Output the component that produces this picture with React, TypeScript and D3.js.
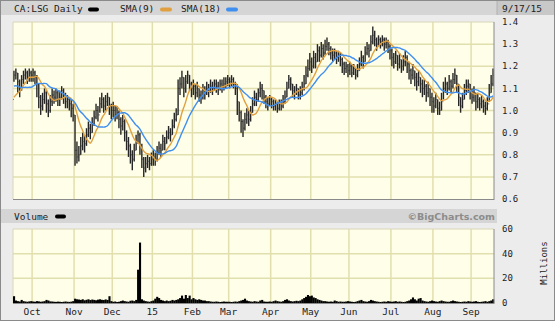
import React from 'react';
import * as d3 from 'd3';

const monthLabels = ["Oct", "Nov", "Dec", "15", "Feb", "Mar", "Apr", "May", "Jun", "Jul", "Aug", "Sep"];
const priceTicks = [1.4, 1.3, 1.2, 1.1, 1.0, 0.9, 0.8, 0.7, 0.6];
const volumeTicks = [60, 40, 20, 0];
const holidays = ["2014-10-13", "2014-12-25", "2014-12-26", "2015-01-01", "2015-02-16", "2015-04-03", "2015-05-18", "2015-07-01", "2015-08-03", "2015-09-07"];

// closes before the visible window (needed to start the moving averages)
const preCloses = [1.14, 1.16, 1.18, 1.17, 1.15, 1.16, 1.17, 1.15, 1.16, 1.08, 1.05, 1.03, 1.02, 1.04, 1.05, 1.06, 1.05];

const closes = [
  // Sep 14
  1.16, 1.17, 1.13, 1.10, 1.14, 1.16, 1.17, 1.15, 1.17, 1.16,
  // Oct
  1.17, 1.15, 1.12, 1.06, 1.02, 1.05, 1.08, 1.03, 1.00, 1.04, 1.07, 1.06, 1.08, 1.05, 1.06, 1.09, 1.07, 1.04, 1.05, 1.03, 1.01, 0.98,
  // Nov
  0.82, 0.79, 0.80, 0.84, 0.86, 0.85, 0.89, 0.92, 0.90, 0.94, 0.97, 1.00, 0.98, 1.03, 1.05, 1.02, 1.04, 1.06, 1.02, 1.00,
  // Dec
  1.00, 0.98, 0.99, 0.96, 0.93, 0.95, 0.90, 0.86, 0.84, 0.80, 0.78, 0.82, 0.86, 0.89, 0.84, 0.78, 0.74, 0.76, 0.77, 0.76, 0.78,
  // Jan 15
  0.79, 0.78, 0.81, 0.83, 0.82, 0.86, 0.85, 0.88, 0.90, 0.89, 0.93, 0.96, 0.98, 1.10, 1.12, 1.15, 1.10, 1.13, 1.16, 1.12, 1.10,
  // Feb
  1.11, 1.08, 1.10, 1.07, 1.06, 1.09, 1.08, 1.10, 1.09, 1.11, 1.10, 1.12, 1.11, 1.10, 1.12, 1.11, 1.12, 1.13, 1.14,
  // Mar
  1.13, 1.14, 1.12, 1.10, 1.04, 0.99, 0.95, 0.92, 0.96, 0.98, 0.96, 0.99, 1.03, 1.06, 1.05, 1.08, 1.10, 1.09, 1.06, 1.04, 1.03, 1.05,
  // Apr
  1.04, 1.02, 1.03, 1.01, 1.03, 1.02, 1.04, 1.06, 1.10, 1.14, 1.12, 1.09, 1.08, 1.10, 1.07, 1.08, 1.10, 1.12, 1.16, 1.19, 1.22,
  // May
  1.20, 1.24, 1.22, 1.27, 1.25, 1.28, 1.26, 1.29, 1.30, 1.28, 1.26, 1.25, 1.26, 1.24, 1.25, 1.23, 1.21, 1.19, 1.20, 1.18,
  // Jun
  1.20, 1.17, 1.19, 1.16, 1.18, 1.21, 1.24, 1.22, 1.26, 1.28, 1.27, 1.31, 1.34, 1.32, 1.30, 1.32, 1.31, 1.32, 1.30, 1.31, 1.29, 1.27,
  // Jul
  1.24, 1.22, 1.25, 1.21, 1.23, 1.20, 1.22, 1.24, 1.21, 1.18, 1.16, 1.18, 1.15, 1.13, 1.15, 1.12, 1.10, 1.11, 1.08, 1.10, 1.06, 1.04,
  // Aug
  1.02, 1.05, 1.01, 1.00, 1.04, 1.10, 1.12, 1.10, 1.13, 1.11, 1.14, 1.16, 1.12, 1.06, 1.02, 1.05, 1.09, 1.11, 1.12, 1.09,
  // Sep 15
  1.06, 1.08, 1.04, 1.05, 1.03, 1.04, 1.02, 1.01, 1.03, 1.08, 1.12, 1.16,
];

const highs = [
  1.18, 1.19, 1.17, 1.14, 1.16, 1.18, 1.19, 1.18, 1.19, 1.18,
  1.19, 1.18, 1.16, 1.12, 1.07, 1.08, 1.10, 1.09, 1.05, 1.07, 1.10, 1.09, 1.10, 1.09, 1.09, 1.11, 1.10, 1.08, 1.07, 1.06, 1.05, 1.03,
  0.98, 0.86, 0.84, 0.88, 0.90, 0.89, 0.92, 0.95, 0.94, 0.97, 1.00, 1.03, 1.02, 1.06, 1.08, 1.06, 1.07, 1.08, 1.06, 1.03,
  1.04, 1.02, 1.02, 1.00, 0.97, 0.98, 0.96, 0.91, 0.88, 0.85, 0.82, 0.85, 0.89, 0.91, 0.90, 0.85, 0.79, 0.79, 0.80, 0.79, 0.81,
  0.82, 0.81, 0.84, 0.86, 0.85, 0.89, 0.88, 0.91, 0.93, 0.92, 0.96, 0.99, 1.01, 1.14, 1.15, 1.18, 1.15, 1.16, 1.18, 1.16, 1.13,
  1.14, 1.12, 1.13, 1.10, 1.09, 1.12, 1.11, 1.13, 1.12, 1.14, 1.13, 1.14, 1.14, 1.13, 1.14, 1.14, 1.15, 1.15, 1.16,
  1.15, 1.16, 1.15, 1.13, 1.12, 1.04, 1.00, 0.96, 0.99, 1.01, 1.00, 1.02, 1.06, 1.09, 1.08, 1.10, 1.13, 1.12, 1.09, 1.07, 1.06, 1.07,
  1.06, 1.05, 1.05, 1.04, 1.05, 1.05, 1.07, 1.09, 1.13, 1.16, 1.15, 1.12, 1.11, 1.12, 1.10, 1.11, 1.13, 1.16, 1.20, 1.23, 1.26,
  1.24, 1.27, 1.26, 1.30, 1.29, 1.31, 1.30, 1.32, 1.33, 1.31, 1.29, 1.28, 1.28, 1.27, 1.27, 1.26, 1.24, 1.22, 1.22, 1.21,
  1.22, 1.21, 1.21, 1.19, 1.21, 1.24, 1.27, 1.25, 1.29, 1.31, 1.30, 1.34, 1.38, 1.36, 1.33, 1.34, 1.33, 1.34, 1.33, 1.33, 1.32, 1.30,
  1.28, 1.26, 1.27, 1.25, 1.26, 1.23, 1.25, 1.27, 1.25, 1.22, 1.19, 1.21, 1.18, 1.17, 1.18, 1.15, 1.14, 1.14, 1.12, 1.13, 1.10, 1.08,
  1.06, 1.08, 1.05, 1.04, 1.08, 1.13, 1.15, 1.13, 1.16, 1.14, 1.17, 1.19, 1.16, 1.12, 1.06, 1.08, 1.12, 1.14, 1.14, 1.12,
  1.10, 1.11, 1.08, 1.08, 1.06, 1.07, 1.05, 1.04, 1.06, 1.12, 1.16, 1.19,
];

const lows = [
  1.13, 1.14, 1.08, 1.06, 1.09, 1.12, 1.14, 1.12, 1.13, 1.13,
  1.13, 1.12, 1.06, 1.01, 0.98, 1.00, 1.03, 0.99, 0.97, 0.99, 1.02, 1.03, 1.04, 1.02, 1.02, 1.05, 1.03, 1.01, 1.01, 1.00, 0.97, 0.95,
  0.75, 0.76, 0.77, 0.80, 0.82, 0.81, 0.84, 0.88, 0.87, 0.90, 0.93, 0.96, 0.95, 0.99, 1.01, 0.99, 1.00, 1.02, 0.98, 0.96,
  0.97, 0.95, 0.96, 0.92, 0.89, 0.91, 0.86, 0.82, 0.79, 0.76, 0.73, 0.77, 0.82, 0.85, 0.80, 0.74, 0.70, 0.72, 0.74, 0.73, 0.75,
  0.75, 0.75, 0.77, 0.80, 0.79, 0.82, 0.82, 0.85, 0.87, 0.86, 0.89, 0.92, 0.95, 0.98, 1.07, 1.10, 1.06, 1.08, 1.12, 1.09, 1.06,
  1.07, 1.05, 1.06, 1.04, 1.03, 1.05, 1.05, 1.07, 1.06, 1.08, 1.07, 1.09, 1.08, 1.07, 1.09, 1.08, 1.09, 1.10, 1.11,
  1.10, 1.11, 1.10, 1.07, 0.98, 0.95, 0.90, 0.88, 0.91, 0.94, 0.93, 0.95, 0.99, 1.02, 1.02, 1.04, 1.06, 1.05, 1.03, 1.01, 1.00, 1.02,
  1.01, 1.00, 1.00, 0.99, 1.00, 1.00, 1.01, 1.03, 1.06, 1.10, 1.09, 1.06, 1.05, 1.07, 1.05, 1.05, 1.07, 1.09, 1.12, 1.15, 1.18,
  1.17, 1.19, 1.19, 1.22, 1.22, 1.24, 1.23, 1.25, 1.27, 1.25, 1.23, 1.22, 1.23, 1.21, 1.22, 1.20, 1.17, 1.16, 1.17, 1.15,
  1.16, 1.15, 1.16, 1.14, 1.15, 1.18, 1.20, 1.19, 1.22, 1.25, 1.24, 1.27, 1.30, 1.29, 1.27, 1.29, 1.28, 1.29, 1.27, 1.28, 1.26, 1.23,
  1.20, 1.19, 1.21, 1.18, 1.19, 1.17, 1.18, 1.20, 1.17, 1.14, 1.12, 1.14, 1.11, 1.09, 1.11, 1.08, 1.06, 1.07, 1.04, 1.06, 1.02, 0.99,
  0.99, 1.01, 0.98, 0.98, 1.00, 1.05, 1.08, 1.07, 1.09, 1.08, 1.10, 1.12, 1.08, 1.02, 0.99, 1.01, 1.05, 1.07, 1.08, 1.05,
  1.03, 1.04, 1.00, 1.01, 1.00, 1.01, 0.99, 0.98, 1.00, 1.04, 1.08, 1.11,
];

// volume, millions of shares
const volumes = [
  5.5, 2.0, 1.5, 1.2, 2.5, 1.5, 1.2, 1.0, 1.3, 1.5,
  1.2, 1.0, 1.5, 1.3, 1.0, 1.2, 1.5, 2.5, 2.0, 1.3, 1.2, 1.0, 0.9, 1.1, 1.0, 0.8, 1.0, 1.2, 1.0, 0.9, 1.1, 1.5,
  3.5, 3.0, 2.8, 2.5, 3.0, 2.2, 2.6, 3.0, 2.4, 2.8, 2.5, 2.2, 2.7, 3.0, 2.6, 2.4, 2.9, 2.5, 5.5, 1.5,
  1.0, 1.2, 0.8, 1.0, 1.5, 2.0, 1.5, 1.2, 1.0, 1.8, 2.0, 1.5, 2.5, 27, 49, 3.0, 2.0, 1.5, 1.2, 1.0, 1.5,
  2.0, 3.5, 5.0, 4.0, 2.5, 2.0, 1.5, 2.0, 1.5, 1.8, 2.5, 2.0, 2.5, 3.0, 4.0, 6.0, 3.5, 6.5, 4.0, 6.0, 3.0,
  4.0, 3.0, 2.5, 3.0, 2.5, 2.0, 2.0, 1.5, 1.5, 1.2, 1.0, 1.0, 1.2, 1.0, 0.8, 1.0, 1.2, 1.0, 1.0,
  1.0, 0.8, 1.0, 1.2, 1.0, 1.5, 2.0, 2.5, 3.5, 2.0, 1.5, 1.2, 1.0, 1.5, 1.2, 1.0, 2.0, 2.5, 1.2, 1.0, 1.0, 1.2,
  1.0, 1.5, 2.0, 1.5, 1.2, 1.0, 1.5, 2.5, 3.0, 2.0, 1.5, 1.2, 1.5, 1.8, 1.5, 2.0, 3.0, 4.0, 5.0, 6.5, 5.5,
  6.0, 4.5, 4.0, 3.0, 2.5, 2.0, 1.5, 1.5, 1.2, 1.0, 1.2, 1.0, 2.0, 1.5, 1.0, 1.2, 1.0, 1.0, 1.2, 1.5,
  1.2, 1.0, 0.8, 1.0, 1.5, 2.0, 2.5, 1.5, 1.2, 1.0, 1.5, 2.5, 2.0, 1.5, 1.2, 1.0, 0.8, 1.0, 1.2, 1.0, 1.5, 1.2,
  1.0, 1.2, 1.5, 1.0, 1.2, 1.0, 0.8, 1.0, 1.5, 2.0, 3.0, 4.5, 3.0, 2.0, 3.5, 4.0, 2.0, 1.5, 1.2, 1.0, 1.5, 2.0,
  1.5, 1.2, 1.0, 1.5, 2.0, 1.5, 1.2, 1.0, 1.0, 1.5, 2.0, 1.5, 1.2, 1.0, 0.8, 1.0, 1.2, 1.0, 1.5, 1.2,
  1.0, 1.2, 1.5, 1.0, 0.8, 1.0, 1.2, 1.5, 1.0, 1.5, 2.0, 3.0,
];

function tradingDays(): Date[] {
  const out: Date[] = [];
  const start = Date.UTC(2014, 8, 17);
  const end = Date.UTC(2015, 8, 17);
  for (let t = start; t <= end; t += 86400000) {
    const d = new Date(t);
    const wd = d.getUTCDay();
    if (wd === 0 || wd === 6) continue;
    if (holidays.includes(d.toISOString().slice(0, 10))) continue;
    out.push(d);
  }
  return out;
}

function sma(all: number[], n: number, offset: number, count: number): number[] {
  const res: number[] = [];
  for (let i = 0; i < count; i++) {
    const j = i + offset;
    res.push(d3.mean(all.slice(j - n + 1, j + 1)) as number);
  }
  return res;
}

const W = 555, H = 321;
const PL = 13, PR = 494;
const PT = 22, PB = 199;
const VT = 229, VB = 303;
const MONO = "'DejaVu Sans Mono', monospace";
const GRID = '#e2dfae';
const PLOTBG = '#fffee8';

export default function App() {
  const days = tradingDays();
  const N = closes.length;
  const monthStarts: number[] = [];
  for (let i = 1; i < days.length; i++) {
    if (days[i].getUTCMonth() !== days[i - 1].getUTCMonth()) monthStarts.push(i);
  }
  const x = d3.scaleLinear().domain([0, N]).range([PL, PR]);
  const y = d3.scaleLinear().domain([0.6, 1.4]).range([PB, PT]);
  const yv = d3.scaleLinear().domain([0, 60]).range([VB, VT]);
  const all = preCloses.concat(closes);
  const sma9 = sma(all, 9, preCloses.length, N);
  const sma18 = sma(all, 18, preCloses.length, N);
  const line = d3.line<number>().x((_, i) => x(i + 0.5)).y((v) => y(v)).curve(d3.curveMonotoneX);
  const step = x(1) - x(0);

  return (
    <svg width={W} height={H} style={{ position: 'fixed', left: 0, top: 0, display: 'block' }}
      fontFamily={MONO}>
      <rect x={0} y={0} width={W} height={H} fill="#ececec" />
      {/* header band */}
      <rect x={1} y={1} width={496} height={14} fill="#d5d5d5" />
      <rect x={497} y={1} width={57} height={14} fill="#c8c8c8" />
      <line x1={497} x2={497} y1={1} y2={15} stroke="#b0b0b0" />
      <text x={14} y={12} fontSize={9.5} fill="#222">CA:LSG Daily</text>
      <rect x={88} y={7.5} width={11} height={4} rx={2} fill="#000" />
      <text x={120} y={12} fontSize={9.5} fill="#222">SMA(9)</text>
      <rect x={160} y={7.5} width={12} height={4} rx={2} fill="#e0a040" />
      <text x={181} y={12} fontSize={9.5} fill="#222">SMA(18)</text>
      <rect x={226} y={7.5} width={12} height={4} rx={2} fill="#3f8ff0" />
      <text x={542} y={12} fontSize={9.5} fill="#222" textAnchor="end">9/17/15</text>

      {/* price plot */}
      <rect x={PL} y={PT} width={PR - PL} height={PB - PT} fill={PLOTBG} />
      {priceTicks.slice(1, -1).map((t) => (
        <line key={'hg' + t} x1={PL} x2={PR} y1={y(t)} y2={y(t)} stroke={GRID} strokeWidth={1.5} />
      ))}
      {monthStarts.map((m) => (
        <line key={'vg' + m} x1={x(m)} x2={x(m)} y1={PT} y2={PB} stroke={GRID} strokeWidth={1.5} />
      ))}
      <line x1={PL} x2={PR} y1={PT} y2={PT} stroke="#d8d6b8" />
      <line x1={PL} x2={PL} y1={PT} y2={PB} stroke="#d8d6b8" />
      {closes.map((c, i) => {
        const cx = x(i + 0.5);
        const o = i === 0 ? preCloses[preCloses.length - 1] : closes[i - 1];
        return (
          <g key={'b' + i}>
            <line x1={cx - 1} x2={cx} y1={y(o)} y2={y(o)} stroke="#777" strokeWidth={1} />
            <line x1={cx} x2={cx + 1} y1={y(c)} y2={y(c)} stroke="#777" strokeWidth={1} />
            <line x1={cx} x2={cx} y1={y(highs[i])} y2={y(lows[i])} stroke="#262626" strokeWidth={1.4} />
          </g>
        );
      })}
      <path d={line(sma9) || ''} fill="none" stroke="#e0a040" strokeWidth={1.4} />
      <path d={line(sma18) || ''} fill="none" stroke="#3f8ff0" strokeWidth={1.4} />
      <line x1={PR} x2={PR} y1={PT} y2={PB + 1} stroke="#8a8a8a" />
      <line x1={PL} x2={PR} y1={PB + 0.5} y2={PB + 0.5} stroke="#8a8a8a" />
      {priceTicks.map((t) => (
        <text key={'pt' + t} x={502} y={y(t)} dy="0.35em" fontSize={9} fill="#222">{t.toFixed(1)}</text>
      ))}

      {/* volume header */}
      <rect x={1} y={209} width={496} height={14} fill="#d5d5d5" />
      <text x={14} y={220} fontSize={9.5} fill="#222">Volume</text>
      <rect x={55} y={214.5} width={11} height={4} rx={2} fill="#000" />
      <text x={495} y={220} fontSize={9.5} fontWeight="bold" fontFamily="'DejaVu Sans', sans-serif"
        fill="#8c8c8c" textAnchor="end">©BigCharts.com</text>

      {/* volume plot */}
      <rect x={PL} y={VT} width={PR - PL} height={VB - VT} fill={PLOTBG} />
      {[20, 40].map((t) => (
        <line key={'vh' + t} x1={PL} x2={PR} y1={yv(t)} y2={yv(t)} stroke={GRID} strokeWidth={1.5} />
      ))}
      {monthStarts.map((m) => (
        <line key={'vv' + m} x1={x(m)} x2={x(m)} y1={VT} y2={VB} stroke={GRID} strokeWidth={1.5} />
      ))}
      <line x1={PL} x2={PR} y1={VT} y2={VT} stroke="#d8d6b8" />
      <line x1={PL} x2={PL} y1={VT} y2={VB} stroke="#d8d6b8" />
      {volumes.map((v, i) => (
        <rect key={'v' + i} x={x(i)} y={yv(v)} width={step + 0.2} height={VB - yv(v)} fill="#000" />
      ))}
      <line x1={PR} x2={PR} y1={VT} y2={VB + 1} stroke="#8a8a8a" />
      <line x1={PL} x2={PR} y1={VB + 0.5} y2={VB + 0.5} stroke="#8a8a8a" />
      {volumeTicks.map((t) => (
        <text key={'vt' + t} x={502} y={yv(t)} dy="0.35em" fontSize={9} fill="#222">{t}</text>
      ))}
      <text transform={`translate(547,263) rotate(-90)`} fontSize={9} fill="#222" textAnchor="middle">Millions</text>

      {/* month labels */}
      {monthStarts.map((m, k) => (
        <text key={'ml' + m} x={x(m)} y={315} fontSize={9.5} fill="#222" textAnchor="middle">{monthLabels[k]}</text>
      ))}

      <rect x={0.5} y={0.5} width={W - 1} height={H - 1} fill="none" stroke="#8a8a8a" />
    </svg>
  );
}
